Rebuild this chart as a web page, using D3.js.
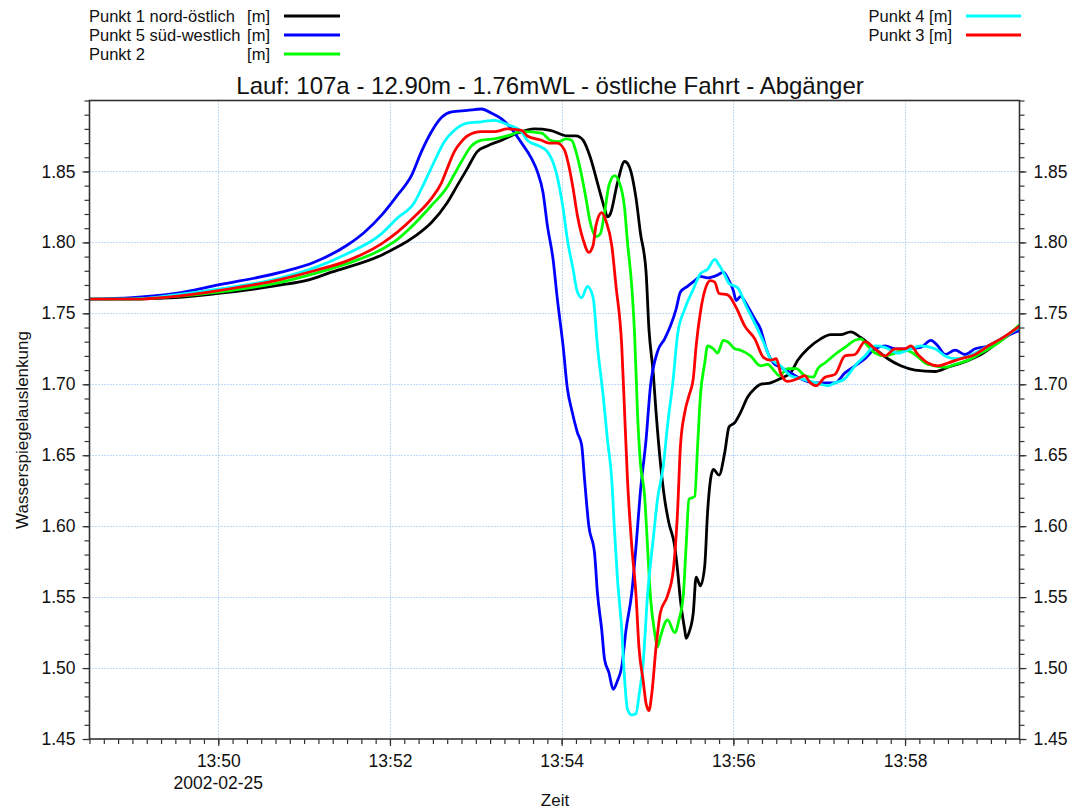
<!DOCTYPE html>
<html><head><meta charset="utf-8">
<script src="https://cdn.jsdelivr.net/npm/d3@7"></script>
<style>
body{margin:0;background:#fff}
text{font-family:Arial,"Liberation Sans",sans-serif;fill:#111}
</style>
</head><body>
<svg id="chart" width="1075" height="812"></svg>
<script>
// ---------- text ----------
const titleText = "Lauf: 107a - 12.90m - 1.76mWL - östliche Fahrt - Abgänger";
const yAxisLabel = "Wasserspiegelauslenkung";
const xAxisLabel = "Zeit";
const dateLabel = "2002-02-25";
const unitLabel = "[m]";

// ---------- axes ----------
const xDomain = ["13:48:30", "13:59:20"];
const yDomain = [1.45, 1.90];
const xMajorTicks = ["13:50:00", "13:52:00", "13:54:00", "13:56:00", "13:58:00"];
const yMajorTicks = [1.45, 1.50, 1.55, 1.60, 1.65, 1.70, 1.75, 1.80, 1.85];

// ---------- series ----------
const seriesNames = ["Punkt 1 nord-östlich", "Punkt 5 süd-westlich", "Punkt 2", "Punkt 4", "Punkt 3"];

const punkt1 = [["13:48:30",1.760],["13:48:57",1.760],["13:49:30",1.761],["13:50:00",1.764],["13:50:44",1.770],["13:51:01",1.773],["13:51:19",1.779],["13:51:54",1.791],["13:52:17",1.804],["13:52:29",1.814],["13:52:40",1.828],["13:52:47",1.840],["13:52:54",1.852],["13:53:01",1.864],["13:53:08",1.868],["13:53:18",1.872],["13:53:29",1.877],["13:53:41",1.880],["13:53:52",1.879],["13:54:04",1.875],["13:54:10",1.875],["13:54:15",1.872],["13:54:20",1.860],["13:54:25",1.842],["13:54:30",1.824],["13:54:32",1.818],["13:54:34",1.820],["13:54:39",1.842],["13:54:44",1.857],["13:54:47",1.854],["13:54:52",1.831],["13:54:55",1.807],["13:54:59",1.779],["13:55:01",1.739],["13:55:04",1.708],["13:55:06",1.680],["13:55:09",1.645],["13:55:12",1.619],["13:55:15",1.602],["13:55:19",1.586],["13:55:21",1.569],["13:55:23",1.548],["13:55:26",1.527],["13:55:27",1.521],["13:55:29",1.525],["13:55:32",1.539],["13:55:34",1.564],["13:55:37",1.558],["13:55:40",1.572],["13:55:42",1.610],["13:55:46",1.640],["13:55:50",1.636],["13:55:54",1.652],["13:55:57",1.670],["13:56:01",1.673],["13:56:05",1.680],["13:56:10",1.691],["13:56:15",1.697],["13:56:19",1.700],["13:56:26",1.701],["13:56:33",1.704],["13:56:40",1.708],["13:56:45",1.717],["13:56:52",1.725],["13:57:01",1.732],["13:57:08",1.735],["13:57:15",1.735],["13:57:22",1.737],["13:57:29",1.733],["13:57:39",1.725],["13:57:48",1.718],["13:57:57",1.713],["13:58:07",1.710],["13:58:21",1.709],["13:58:30",1.712],["13:58:42",1.716],["13:58:53",1.721],["13:59:07",1.731],["13:59:20",1.740]];

const punkt5 = [["13:48:30",1.760],["13:49:00",1.761],["13:49:30",1.764],["13:50:00",1.770],["13:50:44",1.779],["13:51:07",1.786],["13:51:30",1.798],["13:51:42",1.807],["13:51:54",1.819],["13:52:05",1.833],["13:52:15",1.847],["13:52:22",1.864],["13:52:29",1.878],["13:52:36",1.888],["13:52:43",1.892],["13:52:54",1.893],["13:53:04",1.894],["13:53:11",1.891],["13:53:18",1.887],["13:53:25",1.880],["13:53:32",1.870],["13:53:39",1.859],["13:53:43",1.850],["13:53:47",1.835],["13:53:50",1.812],["13:53:54",1.788],["13:53:57",1.760],["13:54:01",1.727],["13:54:04",1.697],["13:54:07",1.682],["13:54:11",1.666],["13:54:14",1.657],["13:54:16",1.633],["13:54:19",1.600],["13:54:23",1.581],["13:54:25",1.553],["13:54:28",1.527],["13:54:30",1.506],["13:54:33",1.497],["13:54:36",1.485],["13:54:39",1.491],["13:54:42",1.501],["13:54:45",1.527],["13:54:49",1.553],["13:54:52",1.586],["13:54:55",1.624],["13:54:59",1.661],["13:55:02",1.698],["13:55:07",1.723],["13:55:12",1.732],["13:55:16",1.741],["13:55:20",1.753],["13:55:23",1.765],["13:55:28",1.769],["13:55:33",1.773],["13:55:37",1.776],["13:55:42",1.775],["13:55:49",1.777],["13:55:53",1.779],["13:55:56",1.775],["13:56:00",1.766],["13:56:02",1.759],["13:56:05",1.762],["13:56:10",1.755],["13:56:15",1.746],["13:56:19",1.739],["13:56:23",1.725],["13:56:28",1.715],["13:56:33",1.712],["13:56:40",1.708],["13:56:47",1.704],["13:56:57",1.701],["13:57:11",1.701],["13:57:18",1.708],["13:57:25",1.713],["13:57:32",1.718],["13:57:39",1.725],["13:57:46",1.727],["13:57:53",1.725],["13:58:02",1.725],["13:58:11",1.726],["13:58:18",1.731],["13:58:23",1.727],["13:58:28",1.721],["13:58:35",1.724],["13:58:42",1.721],["13:58:49",1.725],["13:58:58",1.727],["13:59:07",1.732],["13:59:20",1.738]];

const punkt2 = [["13:48:30",1.760],["13:49:00",1.760],["13:49:30",1.762],["13:50:00",1.765],["13:50:44",1.772],["13:51:07",1.778],["13:51:30",1.785],["13:51:54",1.795],["13:52:05",1.802],["13:52:17",1.813],["13:52:29",1.826],["13:52:40",1.839],["13:52:45",1.848],["13:52:50",1.857],["13:52:57",1.868],["13:53:04",1.872],["13:53:13",1.873],["13:53:22",1.875],["13:53:32",1.878],["13:53:46",1.877],["13:53:52",1.872],["13:53:58",1.871],["13:54:03",1.873],["13:54:07",1.872],["13:54:10",1.864],["13:54:14",1.847],["13:54:17",1.831],["13:54:20",1.814],["13:54:24",1.804],["13:54:27",1.806],["13:54:30",1.821],["13:54:33",1.840],["13:54:37",1.847],["13:54:40",1.843],["13:54:44",1.824],["13:54:46",1.800],["13:54:49",1.769],["13:54:51",1.735],["13:54:53",1.680],["13:54:55",1.645],["13:54:58",1.621],["13:55:00",1.586],["13:55:02",1.551],["13:55:05",1.525],["13:55:07",1.515],["13:55:09",1.522],["13:55:14",1.534],["13:55:19",1.525],["13:55:22",1.534],["13:55:25",1.551],["13:55:27",1.586],["13:55:29",1.619],["13:55:33",1.621],["13:55:35",1.656],["13:55:37",1.692],["13:55:40",1.715],["13:55:42",1.727],["13:55:46",1.725],["13:55:49",1.722],["13:55:53",1.731],["13:55:56",1.730],["13:56:01",1.725],["13:56:05",1.724],["13:56:12",1.720],["13:56:19",1.713],["13:56:24",1.714],["13:56:29",1.709],["13:56:32",1.706],["13:56:38",1.711],["13:56:44",1.711],["13:56:50",1.706],["13:56:56",1.705],["13:56:59",1.711],["13:57:04",1.715],["13:57:11",1.721],["13:57:18",1.726],["13:57:25",1.731],["13:57:29",1.732],["13:57:34",1.727],["13:57:39",1.722],["13:57:46",1.720],["13:57:53",1.722],["13:58:00",1.724],["13:58:07",1.721],["13:58:14",1.715],["13:58:21",1.713],["13:58:28",1.712],["13:58:35",1.714],["13:58:44",1.717],["13:58:53",1.722],["13:59:05",1.729],["13:59:20",1.742]];

const punkt4 = [["13:48:30",1.760],["13:49:00",1.760],["13:49:30",1.763],["13:50:00",1.767],["13:50:44",1.775],["13:51:07",1.782],["13:51:30",1.792],["13:51:54",1.806],["13:52:05",1.817],["13:52:17",1.828],["13:52:24",1.842],["13:52:31",1.857],["13:52:38",1.871],["13:52:45",1.879],["13:52:54",1.884],["13:53:04",1.885],["13:53:13",1.886],["13:53:22",1.883],["13:53:32",1.878],["13:53:36",1.872],["13:53:44",1.868],["13:53:50",1.864],["13:53:56",1.850],["13:54:01",1.824],["13:54:04",1.802],["13:54:08",1.781],["13:54:11",1.765],["13:54:14",1.761],["13:54:18",1.769],["13:54:22",1.761],["13:54:25",1.727],["13:54:29",1.692],["13:54:32",1.661],["13:54:35",1.633],["13:54:37",1.596],["13:54:39",1.563],["13:54:42",1.527],["13:54:44",1.492],["13:54:46",1.471],["13:54:49",1.467],["13:54:52",1.468],["13:54:54",1.480],["13:54:57",1.504],["13:55:00",1.551],["13:55:04",1.591],["13:55:07",1.619],["13:55:11",1.642],["13:55:14",1.671],["13:55:18",1.704],["13:55:21",1.735],["13:55:26",1.753],["13:55:32",1.767],["13:55:37",1.778],["13:55:42",1.781],["13:55:47",1.788],["13:55:50",1.784],["13:55:54",1.777],["13:55:57",1.771],["13:56:03",1.768],["13:56:09",1.755],["13:56:15",1.743],["13:56:21",1.730],["13:56:26",1.718],["13:56:33",1.713],["13:56:40",1.706],["13:56:47",1.704],["13:56:54",1.702],["13:57:01",1.700],["13:57:06",1.699],["13:57:11",1.701],["13:57:18",1.704],["13:57:25",1.713],["13:57:32",1.720],["13:57:39",1.727],["13:57:46",1.726],["13:57:55",1.722],["13:58:04",1.725],["13:58:11",1.727],["13:58:21",1.725],["13:58:28",1.720],["13:58:35",1.718],["13:58:42",1.719],["13:58:49",1.722],["13:58:58",1.727],["13:59:07",1.732],["13:59:20",1.740]];

const punkt3 = [["13:48:30",1.760],["13:49:00",1.760],["13:49:30",1.762],["13:50:00",1.766],["13:50:44",1.774],["13:51:07",1.780],["13:51:30",1.787],["13:51:54",1.799],["13:52:05",1.807],["13:52:17",1.818],["13:52:29",1.831],["13:52:36",1.842],["13:52:40",1.852],["13:52:45",1.864],["13:52:50",1.871],["13:52:54",1.875],["13:53:04",1.878],["13:53:13",1.878],["13:53:22",1.880],["13:53:32",1.879],["13:53:36",1.875],["13:53:46",1.872],["13:53:51",1.870],["13:53:57",1.870],["13:54:02",1.865],["13:54:05",1.854],["13:54:08",1.838],["13:54:11",1.819],["13:54:15",1.802],["13:54:19",1.793],["13:54:22",1.798],["13:54:24",1.812],["13:54:28",1.821],["13:54:31",1.815],["13:54:35",1.798],["13:54:38",1.769],["13:54:42",1.727],["13:54:44",1.680],["13:54:46",1.633],["13:54:49",1.586],["13:54:52",1.551],["13:54:54",1.515],["13:54:57",1.491],["13:54:59",1.475],["13:55:01",1.470],["13:55:03",1.482],["13:55:06",1.515],["13:55:09",1.539],["13:55:14",1.551],["13:55:18",1.569],["13:55:21",1.610],["13:55:23",1.656],["13:55:26",1.680],["13:55:29",1.692],["13:55:32",1.704],["13:55:34",1.727],["13:55:37",1.751],["13:55:41",1.769],["13:55:44",1.773],["13:55:47",1.772],["13:55:50",1.764],["13:55:56",1.763],["13:56:02",1.754],["13:56:08",1.741],["13:56:15",1.732],["13:56:21",1.719],["13:56:26",1.717],["13:56:30",1.718],["13:56:33",1.708],["13:56:38",1.702],["13:56:45",1.704],["13:56:50",1.706],["13:56:53",1.702],["13:56:58",1.699],["13:57:04",1.705],["13:57:11",1.707],["13:57:18",1.720],["13:57:25",1.721],["13:57:32",1.730],["13:57:39",1.725],["13:57:46",1.720],["13:57:53",1.725],["13:58:00",1.725],["13:58:04",1.727],["13:58:09",1.721],["13:58:16",1.715],["13:58:23",1.713],["13:58:30",1.715],["13:58:39",1.718],["13:58:49",1.721],["13:58:58",1.727],["13:59:07",1.732],["13:59:20",1.741]];

// ---------- drawing ----------
const parseT = d3.timeParse("%H:%M:%S");
const plot = {left: 89.5, right: 1019.5, top: 100.5, bottom: 739};
const svg = d3.select("#chart");

const x = d3.scaleTime().domain(xDomain.map(parseT)).range([plot.left, plot.right]);
const y = d3.scaleLinear().domain(yDomain).range([plot.bottom, plot.top]);

const xMajor = xMajorTicks.map(parseT);
const xMinor = d3.timeSecond.every(10).range(x.domain()[0], d3.timeSecond.offset(x.domain()[1], 1));
const yMinor = d3.range(Math.round(yDomain[0]*100), Math.round(yDomain[1]*100)+1).map(v => v/100);

// grid
const grid = svg.append("g").attr("stroke", "#7fb6ee").attr("stroke-width", 1).attr("stroke-dasharray", "1,2");
grid.selectAll("line.v").data(xMajor).join("line")
  .attr("x1", d => Math.round(x(d)) + 0.5).attr("x2", d => Math.round(x(d)) + 0.5)
  .attr("y1", plot.top).attr("y2", plot.bottom);
grid.selectAll("line.h").data(yMajorTicks.slice(1)).join("line")
  .attr("x1", plot.left).attr("x2", plot.right)
  .attr("y1", d => Math.round(y(d)) + 0.5).attr("y2", d => Math.round(y(d)) + 0.5);

// clip
svg.append("clipPath").attr("id", "clip").append("rect")
  .attr("x", plot.left).attr("y", plot.top).attr("width", plot.right - plot.left).attr("height", plot.bottom - plot.top);

const line = d3.line().x(d => x(parseT(d[0]))).y(d => y(d[1])).curve(d3.curveMonotoneX);
const seriesData = [punkt1, punkt5, punkt2, punkt4, punkt3];
const colors = ["#000000", "#0000ff", "#00ff00", "#00ffff", "#ff0000"];
const lines = svg.append("g").attr("clip-path", "url(#clip)");
seriesData.forEach((s, i) => {
  lines.append("path").datum(s).attr("d", line).attr("fill", "none")
    .attr("stroke", colors[i]).attr("stroke-width", 2.8).attr("stroke-linejoin", "round");
});

// axes
const tickFont = 17.5;
function styleAxis(g) {
  g.select(".domain").remove();
  g.selectAll("line").attr("stroke", "#333").attr("stroke-width", 1.2);
  g.selectAll("text").attr("font-size", tickFont).attr("font-family", "Arial, 'Liberation Sans', sans-serif").attr("fill", "#111");
}
svg.append("g").attr("transform", `translate(0,${plot.bottom})`)
  .call(d3.axisBottom(x).tickValues(xMinor).tickSize(5).tickFormat("")).call(styleAxis);
svg.append("g").attr("transform", `translate(0,${plot.bottom})`)
  .call(d3.axisBottom(x).tickValues(xMajor).tickSize(7).tickPadding(9).tickFormat(d3.timeFormat("%H:%M"))).call(styleAxis);
svg.append("g").attr("transform", `translate(${plot.left},0)`)
  .call(d3.axisLeft(y).tickValues(yMinor).tickSize(5).tickFormat("")).call(styleAxis);
svg.append("g").attr("transform", `translate(${plot.left},0)`)
  .call(d3.axisLeft(y).tickValues(yMajorTicks).tickSize(7).tickPadding(7).tickFormat(d3.format(".2f"))).call(styleAxis);
svg.append("g").attr("transform", `translate(${plot.right},0)`)
  .call(d3.axisRight(y).tickValues(yMinor).tickSize(5).tickFormat("")).call(styleAxis);
svg.append("g").attr("transform", `translate(${plot.right},0)`)
  .call(d3.axisRight(y).tickValues(yMajorTicks).tickSize(7).tickPadding(7).tickFormat(d3.format(".2f"))).call(styleAxis);

// frame
svg.append("rect").attr("x", plot.left).attr("y", plot.top)
  .attr("width", plot.right - plot.left).attr("height", plot.bottom - plot.top)
  .attr("fill", "none").attr("stroke", "#333").attr("stroke-width", 1.6);

// date under first major tick
svg.append("text").attr("x", x(xMajor[0])).attr("y", 789).attr("text-anchor", "middle")
  .attr("font-size", tickFont).text(dateLabel);

// axis labels
svg.append("text").attr("x", 555).attr("y", 806).attr("text-anchor", "middle")
  .attr("font-size", 17).text(xAxisLabel);
svg.append("text").attr("transform", "translate(28,430) rotate(-90)").attr("text-anchor", "middle")
  .attr("font-size", 17).text(yAxisLabel);

// title
svg.append("text").attr("x", 550).attr("y", 94).attr("text-anchor", "middle")
  .attr("font-size", 24).text(titleText);

// legend
const legendFont = 16.5;
const leftRows = [0, 1, 2], rightRows = [3, 4];
leftRows.forEach((si, r) => {
  const by = 22 + r * 19;
  svg.append("text").attr("x", 89).attr("y", by).attr("font-size", legendFont).text(seriesNames[si]);
  svg.append("text").attr("x", 270).attr("y", by).attr("text-anchor", "end").attr("font-size", legendFont).text(unitLabel);
  svg.append("line").attr("x1", 284).attr("x2", 340).attr("y1", by - 6).attr("y2", by - 6)
    .attr("stroke", colors[si]).attr("stroke-width", 3);
});
rightRows.forEach((si, r) => {
  const by = 22 + r * 19;
  svg.append("text").attr("x", 952).attr("y", by).attr("text-anchor", "end").attr("font-size", legendFont)
    .text(seriesNames[si] + " " + unitLabel);
  svg.append("line").attr("x1", 966).attr("x2", 1021).attr("y1", by - 6).attr("y2", by - 6)
    .attr("stroke", colors[si]).attr("stroke-width", 3);
});
</script>
</body></html>
